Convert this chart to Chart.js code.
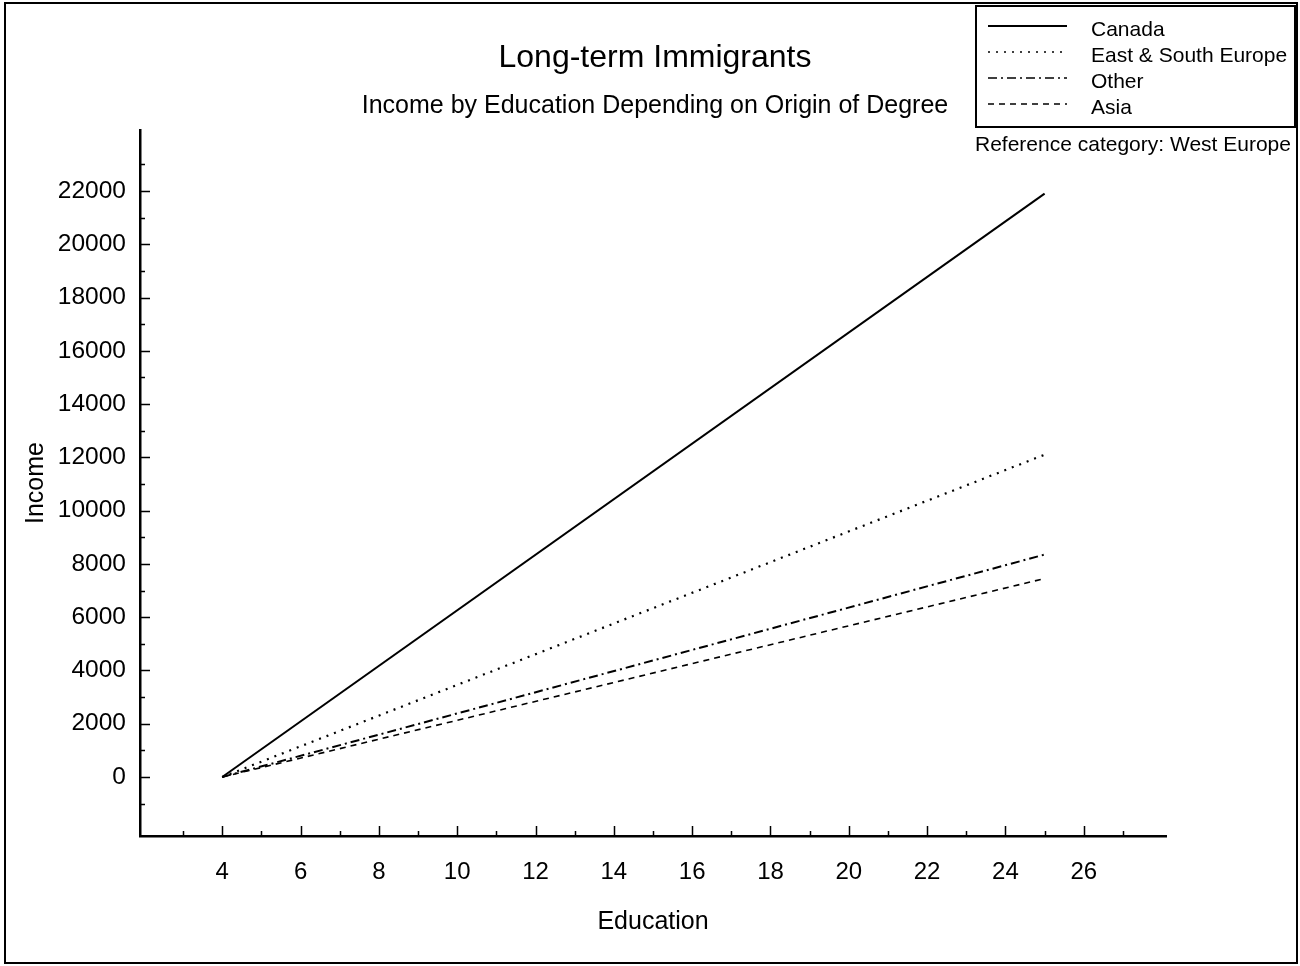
<!DOCTYPE html>
<html><head><meta charset="utf-8">
<script src="https://cdn.jsdelivr.net/npm/chart.js@4.4.0/dist/chart.umd.min.js"></script>
<style>
html,body{margin:0;padding:0;background:#fff;}
#wrap{position:relative;width:1300px;height:966px;font-family:"Liberation Sans",Arial,sans-serif;color:#000;overflow:hidden;}
#c{position:absolute;left:0;top:0;}
#frame{position:absolute;left:4px;top:2px;width:1294px;height:962px;border:2px solid #000;box-sizing:border-box;}
.t{position:absolute;white-space:nowrap;line-height:1;}
#legend{position:absolute;left:975px;top:5px;width:321px;height:123px;border:2px solid #000;box-sizing:border-box;background:#fff;}
.row{position:absolute;left:0;height:26px;width:100%;}
.row svg{position:absolute;left:10px;top:0;}
.row span{position:absolute;left:114px;top:3px;font-size:21px;line-height:1;white-space:nowrap;}
</style></head>
<body><div id="wrap">
<canvas id="c" width="1300" height="966"></canvas>
<div id="frame"></div>
<div class="t" id="title" style="left:0;width:1310px;text-align:center;top:40px;font-size:32px;">Long-term Immigrants</div>
<div class="t" id="subtitle" style="left:0;width:1310px;text-align:center;top:92px;font-size:25px;">Income by Education Depending on Origin of Degree</div>
<div id="legend"></div>
<div class="t" id="refnote" style="left:975px;top:133px;font-size:21px;">Reference category: West Europe</div>
</div>
<script>
// ---- data ----
const education = [4, 25];
const canada = [0, 21900];
const eastSouthEurope = [0, 12100];
const other = [0, 8350];
const asia = [0, 7450];
const seriesNames = ["Canada", "East & South Europe", "Other", "Asia"];
const xTickLabels = [4, 6, 8, 10, 12, 14, 16, 18, 20, 22, 24, 26];
const yTickLabels = [0, 2000, 4000, 6000, 8000, 10000, 12000, 14000, 16000, 18000, 20000, 22000];

const seriesValues = [canada, eastSouthEurope, other, asia];
const dashes = [[], [2, 6], [9, 4, 2, 4], [6, 5]];
const widths = [2, 2.2, 2, 1.6];

const datasets = seriesNames.map((name, i) => ({
  label: name,
  data: education.map((x, j) => ({x: x, y: seriesValues[i][j]})),
  borderColor: '#000',
  borderWidth: widths[i],
  borderDash: dashes[i],
  pointRadius: 0,
  fill: false,
  tension: 0
}));

// HTML legend built from series
const leg = document.getElementById('legend');
seriesNames.forEach((name, i) => {
  const row = document.createElement('div');
  row.className = 'row';
  row.style.top = (8 + i * 26) + 'px';
  const dash = dashes[i].length ? dashes[i].join(',') : 'none';
  row.innerHTML = '<svg width="82" height="26"><line x1="1" y1="11" x2="80" y2="11" stroke="#000" stroke-width="' + (i === 0 ? 2 : 1.6) + '" stroke-dasharray="' + dash + '"/></svg><span>' + name + '</span>';
  leg.appendChild(row);
});

const minorX = [];
for (let i = 0; i < xTickLabels.length; i++) {
  minorX.push(xTickLabels[i] - 1);
}
minorX.push(xTickLabels[xTickLabels.length - 1] + 1);
const minorY = [];
for (let i = 0; i < yTickLabels.length; i++) minorY.push(yTickLabels[i] - 1000);
minorY.push(yTickLabels[yTickLabels.length - 1] + 1000);

const inwardTicks = {
  id: 'inwardTicks',
  afterDraw(chart) {
    const {ctx, chartArea: a, scales: {x, y}} = chart;
    ctx.save();
    ctx.strokeStyle = '#000';
    ctx.lineWidth = 1.5;
    ctx.beginPath();
    xTickLabels.forEach(v => { const p = Math.round(x.getPixelForValue(v)) + 0.5; ctx.moveTo(p, a.bottom); ctx.lineTo(p, a.bottom - 10); });
    minorX.forEach(v => { const p = Math.round(x.getPixelForValue(v)) + 0.5; ctx.moveTo(p, a.bottom); ctx.lineTo(p, a.bottom - 5); });
    yTickLabels.forEach(v => { const p = Math.round(y.getPixelForValue(v)) + 0.5; ctx.moveTo(a.left, p); ctx.lineTo(a.left + 10, p); });
    minorY.forEach(v => { const p = Math.round(y.getPixelForValue(v)) + 0.5; ctx.moveTo(a.left, p); ctx.lineTo(a.left + 5, p); });
    ctx.stroke();
    ctx.restore();
  }
};

Chart.defaults.font.family = '"Liberation Sans", Arial, sans-serif';
Chart.defaults.color = '#000';

new Chart(document.getElementById('c'), {
  type: 'line',
  data: {datasets},
  options: {
    responsive: false,
    animation: false,
    layout: {padding: {left: 0, top: 130, right: 134, bottom: 0}},
    plugins: {legend: {display: false}, tooltip: {enabled: false}, title: {display: false}},
    scales: {
      x: {
        type: 'linear',
        min: 1.9, max: 28.1,
        afterBuildTicks: s => { s.ticks = xTickLabels.map(v => ({value: v})); },
        afterFit: s => { s.height = 130; },
        grid: {display: false, drawTicks: false},
        border: {display: true, color: '#000', width: 2.5},
        ticks: {font: {size: 24}, padding: 22, maxRotation: 0, autoSkip: false, callback: v => String(v)},
        title: {display: true, text: 'Education', font: {size: 25}, padding: {top: 0, bottom: 29}}
      },
      y: {
        type: 'linear',
        min: -2215, max: 24290,
        afterBuildTicks: s => { s.ticks = yTickLabels.map(v => ({value: v})); },
        afterFit: s => { s.width = 140; },
        grid: {display: false, drawTicks: false},
        border: {display: true, color: '#000', width: 2.5},
        ticks: {font: {size: 24.5}, padding: 14, autoSkip: false, callback: v => String(v)},
        title: {display: true, text: 'Income', font: {size: 25}, padding: {top: 21, bottom: 0}}
      }
    }
  },
  plugins: [inwardTicks]
});
</script>
</body></html>
